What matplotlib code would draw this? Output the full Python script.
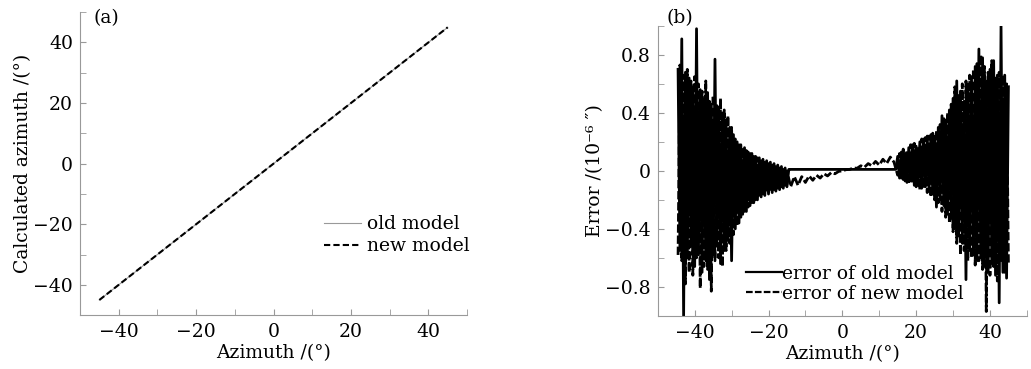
import numpy as np
from matplotlib import pyplot as plt
from matplotlib.ticker import MultipleLocator

# panel (a): calculated azimuth vs azimuth
azimuth = [-45, -30, -15, 0, 15, 30, 45]
calc_old = [-45, -30, -15, 0, 15, 30, 45]
calc_new = [-45, -30, -15, 0, 15, 30, 45]

# panel (b): error (units 1e-6 ")
err_x_left = np.arange(-44.5, -14.9, 0.5)
err_x_right = np.arange(15.0, 45.01, 0.5)

old_left = [0.70, -0.55, 0.91, -1.00, 0.68, -0.60, 0.64, -0.52, 0.58, -0.66,
            0.98, -0.58, 0.56, -0.70, 0.50, -0.62, 0.54, -0.75, 0.46, -0.58,
            0.77, -0.52, 0.44, -0.64, 0.40, -0.55, 0.35, -0.48, 0.30, -0.62,
            0.25, -0.40, 0.20, -0.36, 0.18, -0.30, 0.16, -0.28, 0.13, -0.24,
            0.12, -0.22, 0.10, -0.20, 0.09, -0.18, 0.08, -0.17, 0.07, -0.16,
            0.06, -0.15, 0.05, -0.14, 0.04, -0.13, 0.03, -0.12, 0.02, -0.11]
old_mid_x = [-14.5, -14.0, 14.0, 14.5]
old_mid = [0.01, 0.01, 0.01, 0.01]
old_right = [0.10, -0.05, 0.13, -0.06, 0.12, -0.08, 0.16, -0.07, 0.18, -0.10,
             0.17, -0.09, 0.20, -0.12, 0.22, -0.11, 0.24, -0.14, 0.25, -0.16,
             0.24, -0.25, 0.30, -0.20, 0.38, -0.24, 0.35, -0.30, 0.42, -0.33,
             0.50, -0.40, 0.62, -0.45, 0.55, -0.50, 0.48, -0.75, 0.60, -0.55,
             0.65, -0.58, 0.72, -0.62, 0.84, -0.60, 0.78, -0.66, 0.62, -0.70,
             0.70, -0.64, 0.76, -0.72, 0.66, -0.91, 1.00, -0.70, 0.66, -0.74,
             0.58]

new_left = [-0.58, 0.73, -0.62, 0.66, -0.78, 0.70, -0.70, 0.62, -0.72, 0.65,
            -0.60, 0.60, -0.81, 0.55, -0.66, 0.62, -0.68, 0.48, -0.83, 0.52,
            -0.62, 0.45, -0.60, 0.50, -0.66, 0.42, -0.55, 0.38, -0.50, 0.30,
            -0.44, 0.22, -0.38, 0.18, -0.32, 0.16, -0.28, 0.14, -0.25, 0.12,
            -0.22, 0.10, -0.20, 0.09, -0.18, 0.07, -0.16, 0.06, -0.15, 0.05,
            -0.14, 0.04, -0.13, 0.03, -0.12, 0.02, -0.11, 0.01, -0.10, 0.00]
new_mid_x = [-14, -13, -12, -11, -10, -9, -8, -7, -6, -5, -4, -3, -2, -1, 0,
             1, 2, 3, 4, 5, 6, 7, 8, 9, 10, 11, 12, 13, 14]
new_mid = [-0.11, -0.04, -0.10, -0.04, -0.08, -0.035, -0.065, -0.03, -0.05,
           -0.02, -0.035, -0.012, -0.02, -0.004, 0.0, 0.008, 0.01, 0.02, 0.018,
           0.035, 0.025, 0.05, 0.035, 0.065, 0.04, 0.08, 0.05, 0.095, 0.06]
new_right = [-0.03, 0.12, -0.05, 0.15, -0.07, 0.14, -0.09, 0.18, -0.08, 0.19,
             -0.11, 0.17, -0.13, 0.22, -0.12, 0.23, -0.15, 0.24, -0.18, 0.26,
             -0.20, 0.28, -0.22, 0.32, -0.28, 0.36, -0.32, 0.40, -0.36, 0.46,
             -0.42, 0.58, -0.50, 0.52, -0.58, 0.60, -0.55, 0.62, -0.62, 0.66,
             -0.60, 0.70, -0.65, 0.74, -0.62, 0.80, -0.68, 0.72, -0.97, 0.68,
             -0.72, 0.76, -0.66, 0.64, -0.76, 0.68, -0.62, 0.66, -0.70, 0.60,
             -0.64]

plt.rcParams['font.family'] = 'DejaVu Serif'
fs = 13.5

fig = plt.figure(figsize=(10.31, 3.69), dpi=100)
ax1 = fig.add_axes([0.0776, 0.146, 0.3754, 0.821])
ax2 = fig.add_axes([0.638, 0.144, 0.358, 0.786])

for ax in (ax1, ax2):
    ax.spines['top'].set_visible(False)
    ax.spines['right'].set_visible(False)
    ax.spines['left'].set_color('#999999')
    ax.spines['bottom'].set_color('#999999')
    ax.tick_params(which='both', direction='in', length=4, color='#999999', labelsize=fs)
    ax.tick_params(axis='x', which='both', pad=6)
    ax.tick_params(axis='y', which='both', pad=5)
    ax.xaxis.set_major_locator(MultipleLocator(20))
    ax.xaxis.set_minor_locator(MultipleLocator(10))
    ax.set_xlim(-50, 50)

# (a)
ax1.plot(azimuth, calc_old, color='#999999', lw=0.8, label='old model')
ax1.plot(azimuth, calc_new, color='black', lw=1.5, ls=(0, (3, 1.5)), label='new model')
ax1.set_ylim(-50, 50)
ax1.yaxis.set_major_locator(MultipleLocator(20))
ax1.yaxis.set_minor_locator(MultipleLocator(10))
ax1.set_xlabel('Azimuth /(°)', fontsize=fs, labelpad=2)
ax1.set_ylabel('Calculated azimuth /(°)', fontsize=fs, labelpad=1)
ax1.text(0.034, 1.01, '(a)', transform=ax1.transAxes, fontsize=fs, va='top')
ax1.legend(loc='lower left', bbox_to_anchor=(0.63, 0.198), frameon=False,
           borderaxespad=0, borderpad=0, handlelength=2.0, handletextpad=0.3,
           labelspacing=0.2, fontsize=fs)

# (b)
old_x = np.concatenate([err_x_left, old_mid_x, err_x_right])
old_y = np.concatenate([old_left, old_mid, old_right])
new_x = np.concatenate([err_x_left, new_mid_x, err_x_right])
new_y = np.concatenate([new_left, new_mid, new_right])
ax2.plot(old_x, old_y, color='black', lw=2.0, label='error of old model')
ax2.plot(new_x, new_y, color='black', lw=2.0, ls=(0, (3, 1)), label='error of new model')
ax2.set_ylim(-1, 1)
ax2.yaxis.set_minor_locator(MultipleLocator(0.2))
ax2.set_yticks([-0.8, -0.4, 0, 0.4, 0.8])
ax2.set_yticklabels(['\u22120.8', '\u22120.4', '0', '0.4', '0.8'])
ax2.set_xlabel('Azimuth /(°)', fontsize=fs, labelpad=2)
ax2.set_ylabel('Error /(10\u207b\u2076 \u2033)', fontsize=fs, labelpad=1)
fig.text(0.646, 0.975, '(b)', fontsize=fs, va='top')
leg = ax2.legend(loc='lower left', bbox_to_anchor=(0.24, 0.045), frameon=False,
                 borderaxespad=0, borderpad=0, handlelength=1.9, handletextpad=0.0,
                 labelspacing=0.1, fontsize=fs)
for h in leg.get_lines():
    h.set_linewidth(1.6)

fig.savefig('out.png', dpi=100)
